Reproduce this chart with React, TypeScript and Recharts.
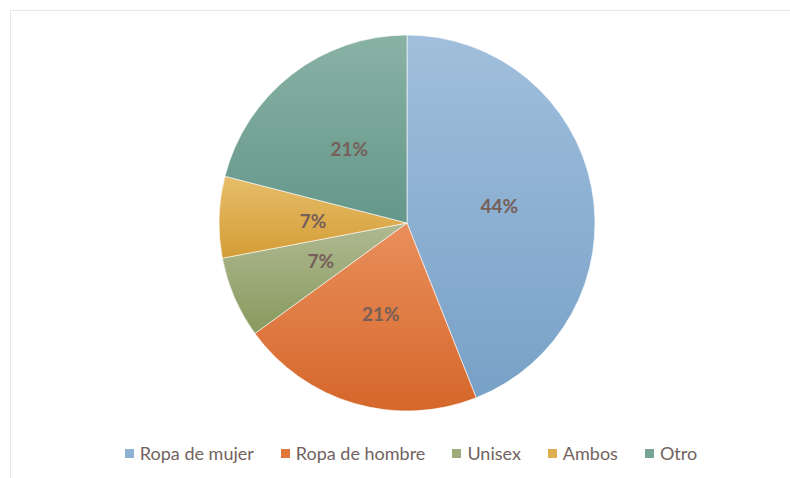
import { PieChart, Pie, Cell, Legend } from "recharts";

const categories = ["Ropa de mujer", "Ropa de hombre", "Unisex", "Ambos", "Otro"];
const shares = [44, 21, 7, 7, 21];

// [top, bottom] of each slice gradient
const GRADIENTS = [
  ["#a0bfdc", "#78a1c7"],
  ["#e98f5c", "#d5672a"],
  ["#b0b992", "#889a5e"],
  ["#e6bd6a", "#d49d36"],
  ["#89b2a5", "#64978a"],
];
const SWATCH = ["#8fb1d3", "#e0783d", "#a0ab7a", "#deae50", "#76a597"];

const data = categories.map((name, i) => ({ name, value: shares[i] }));
const total = shares.reduce((a, b) => a + b, 0);

const RADIAN = Math.PI / 180;

function renderLabel(props: any) {
  const { cx, cy, midAngle, outerRadius, value } = props;
  const r = outerRadius * 0.5;
  const x = cx + r * Math.cos(-midAngle * RADIAN);
  const y = cy + r * Math.sin(-midAngle * RADIAN);
  return (
    <text
      x={x}
      y={y}
      fill="#765f58"
      textAnchor="middle"
      dominantBaseline="central"
      fontFamily="Lato, sans-serif"
      fontWeight={700}
      fontSize={19}
    >
      {`${Math.round((value / total) * 100)}%`}
    </text>
  );
}

function renderLegend() {
  return (
    <div
      style={{
        display: "flex",
        justifyContent: "center",
        paddingLeft: 32,
        fontFamily: "Lato, sans-serif",
        fontSize: 18,
        color: "#726360",
      }}
    >
      {categories.map((c, i) => (
        <div key={c} style={{ display: "flex", alignItems: "center", marginRight: i < categories.length - 1 ? 27 : 0 }}>
          <span style={{ width: 9, height: 9, background: SWATCH[i], marginRight: 6, display: "inline-block" }} />
          <span>{c}</span>
        </div>
      ))}
    </div>
  );
}

export default function App() {
  return (
    <div style={{ position: "absolute", left: 0, top: 0, width: 790, height: 478, overflow: "hidden", background: "#fff" }}>
      <div
        style={{
          position: "absolute",
          left: 10,
          top: 10,
          width: 820,
          height: 520,
          border: "1px solid #ede6e6",
          boxSizing: "border-box",
        }}
      />
      <div style={{ position: "absolute", left: 0, top: 0 }}>
        <PieChart width={790} height={478} margin={{ top: 0, right: 0, bottom: 0, left: 0 }}>
          <defs>
            {GRADIENTS.map((g, i) => (
              <linearGradient key={i} id={`grad-${i}`} x1="0" y1="0" x2="0" y2="1">
                <stop offset="0%" stopColor={g[0]} />
                <stop offset="100%" stopColor={g[1]} />
              </linearGradient>
            ))}
          </defs>
          <Pie
            data={data}
            dataKey="value"
            nameKey="name"
            cx={407}
            cy={223}
            innerRadius={0}
            outerRadius={188}
            startAngle={90}
            endAngle={-270}
            stroke="#ffffff"
            strokeWidth={0.6}
            label={renderLabel}
            labelLine={false}
            isAnimationActive={false}
          >
            {data.map((entry, index) => (
              <Cell key={`cell-${index}`} fill={`url(#grad-${index})`} />
            ))}
          </Pie>
          <Legend
            content={renderLegend}
            wrapperStyle={{ left: 0, top: 442, width: 790 }}
          />
        </PieChart>
      </div>
    </div>
  );
}
